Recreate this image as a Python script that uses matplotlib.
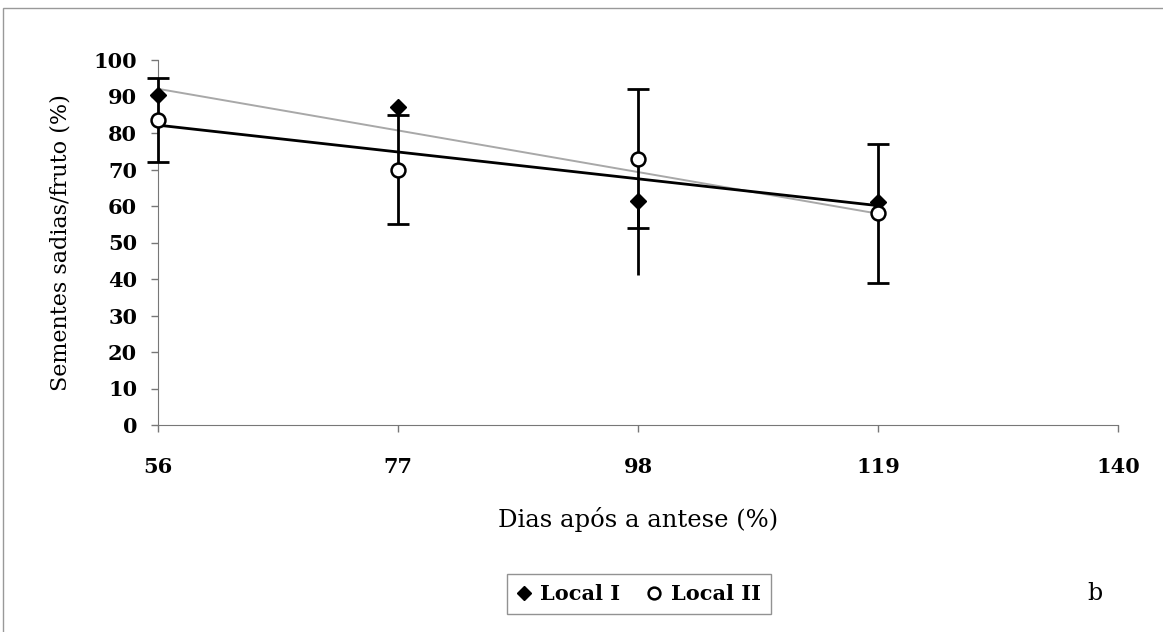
import numpy as np
import matplotlib.pyplot as plt
from matplotlib.patches import Rectangle

# dados
dias = [56, 77, 98, 119]
local1 = [90.5, 87.0, 61.5, 61.0]
local2 = [83.5, 70.0, 73.0, 58.0]
erro1_inf = [0.0, 0.0, 20.5, 0.0]
erro2 = [11.5, 15.0, 19.0, 19.0]
xticks = [56, 77, 98, 119, 140]
yticks = list(range(0, 101, 10))

plt.rcParams['font.family'] = ['DejaVu Serif']

fig = plt.figure(figsize=(11.63, 6.32), dpi=100)
ax = fig.add_axes([158 / 1163, 1 - 425 / 632, (1118 - 158) / 1163, (425 - 60) / 632])

# linhas de tendencia (ajuste linear)
xx = np.array([dias[0], dias[-1]])
c1 = np.polyfit(dias, local1, 1)
c2 = np.polyfit(dias, local2, 1)
ax.plot(xx, np.polyval(c1, xx), color='#a8a8a8', lw=1.4, zorder=2)
ax.plot(xx, np.polyval(c2, xx), color='black', lw=2.0, zorder=3)

eb2 = ax.errorbar(dias, local2, yerr=erro2, fmt='none', ecolor='black',
                  elinewidth=2.0, capsize=8, capthick=2.0, zorder=4)
eb1 = ax.errorbar(dias, local1, yerr=[erro1_inf, [0, 0, 0, 0]], fmt='none',
                  ecolor='black', elinewidth=2.0, capsize=0, zorder=4)
for eb in (eb1, eb2):
    for art in eb.lines[1] + eb.lines[2]:
        art.set_clip_on(False)

ax.plot(dias, local1, linestyle='none', marker='D', ms=8, color='black',
        label='Local I', zorder=5, clip_on=False)
ax.plot(dias, local2, linestyle='none', marker='o', ms=10, mfc='white',
        mec='black', mew=1.8, label='Local II', zorder=5, clip_on=False)

ax.set_xlim(56, 140)
ax.set_ylim(0, 100)
ax.set_xticks(xticks)
ax.set_yticks(yticks)
ax.spines['top'].set_visible(False)
ax.spines['right'].set_visible(False)
ax.spines['left'].set_color('#777777')
ax.spines['bottom'].set_color('#777777')
ax.tick_params(axis='both', labelsize=15, colors='#777777', labelcolor='black',
               length=5, width=1)
ax.tick_params(axis='x', pad=18)
ax.tick_params(axis='y', pad=10)
for lab in ax.get_xticklabels() + ax.get_yticklabels():
    lab.set_fontweight('bold')

ax.set_ylabel('Sementes sadias/fruto (%)', fontsize=16, labelpad=16)
ax.set_xlabel('Dias após a antese (%)', fontsize=17.5, labelpad=22)

leg = ax.legend(loc='center', bbox_to_anchor=(639 / 1163, 1 - 594 / 632),
                bbox_transform=fig.transFigure, ncol=2,
                frameon=True, fancybox=False, edgecolor='#777777',
                handlelength=0.6, handletextpad=0.5, columnspacing=1.3,
                borderpad=0.5, markerscale=0.85,
                prop={'size': 15, 'weight': 'bold'})
leg.get_frame().set_linewidth(1.0)

fig.text(1095 / 1163, 1 - 593 / 632, 'b', fontsize=17, ha='center', va='center')

# moldura do grafico
fig.patches.append(Rectangle((3 / 1163, -0.05), 1.1, 1.05 - 8 / 632,
                             transform=fig.transFigure, fill=False,
                             edgecolor='#999999', lw=1.0))

fig.savefig('out.png', dpi=100)
